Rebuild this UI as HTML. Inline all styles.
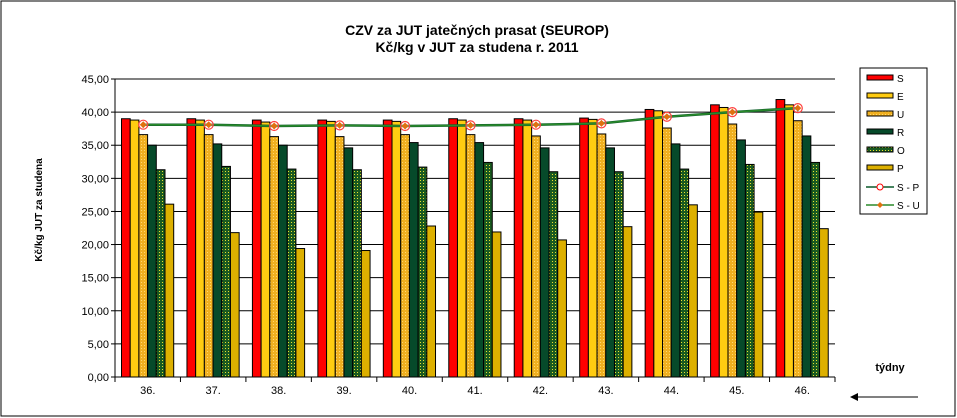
<!DOCTYPE html>
<html><head><meta charset="utf-8"><style>
body{margin:0;background:#fff;font-family:"Liberation Sans",sans-serif}
svg{display:block}
</style></head><body>
<svg width="957" height="418" xmlns="http://www.w3.org/2000/svg">
<defs>
<pattern id="pU" width="3" height="3" patternUnits="userSpaceOnUse"><rect width="3" height="3" fill="#f0b020"/><rect width="1" height="1" fill="#ffd870"/></pattern>
<pattern id="pO" width="3" height="3" patternUnits="userSpaceOnUse"><rect width="3" height="3" fill="#1a5a20"/><rect width="1" height="1" fill="#e8e030"/></pattern>
</defs>
<rect x="1" y="1" width="954" height="415" fill="#fff" stroke="#000"/>
<text x="477" y="35" text-anchor="middle" font-size="14" font-weight="bold">CZV za JUT jatečných prasat (SEUROP)</text>
<text x="477" y="52" text-anchor="middle" font-size="14" font-weight="bold">Kč/kg v JUT za studena r. 2011</text>
<text transform="translate(42,210) rotate(-90)" text-anchor="middle" font-size="10" font-weight="bold">Kč/kg JUT za studena</text>
<text x="890" y="371" text-anchor="middle" font-size="11" font-weight="bold">týdny</text>
<g><line x1="852" y1="397" x2="918" y2="397" stroke="#000"/><path d="M850 397 L858 393 L858 401 Z" fill="#000"/></g>
<g id="grid"></g><g id="bars"></g><g id="lines"></g><g id="axes"></g>
<g>
<rect x="860" y="68" width="67" height="146" fill="#fff" stroke="#000"/>
<g id="leg"></g>
</g>
</svg>
<script>
const weeks=["36.","37.","38.","39.","40.","41.","42.","43.","44.","45.","46."];
const sS=[39.0,39.0,38.8,38.8,38.8,39.0,39.0,39.1,40.4,41.1,41.9];
const sE=[38.8,38.8,38.5,38.6,38.6,38.8,38.8,38.9,40.2,40.7,41.1];
const sU=[36.6,36.6,36.3,36.3,36.6,36.6,36.4,36.7,37.6,38.2,38.7];
const sR=[35.0,35.2,35.0,34.6,35.4,35.4,34.6,34.6,35.2,35.8,36.4];
const sO=[31.3,31.8,31.4,31.3,31.7,32.4,31.0,31.0,31.4,32.1,32.4];
const sP=[26.1,21.8,19.4,19.1,22.8,21.9,20.7,22.7,26.0,24.9,22.4];
const lineSP=[38.1,38.1,37.9,38.0,37.9,38.0,38.1,38.3,39.3,40.0,40.6];
const lineSU=[38.1,38.1,37.9,38.0,37.9,38.0,38.1,38.3,39.3,40.0,40.6];
const yTicks=["0,00","5,00","10,00","15,00","20,00","25,00","30,00","35,00","40,00","45,00"];
const NS="http://www.w3.org/2000/svg";
const X0=115,X1=835,Y0=377,Y1=79,YMAX=45;
const gw=(X1-X0)/weeks.length;
const y=v=>Y0-(v/YMAX)*(Y0-Y1);
function mk(t,a,p){const e=document.createElementNS(NS,t);for(const k in a)e.setAttribute(k,a[k]);document.getElementById(p).appendChild(e);return e;}
yTicks.forEach((t,i)=>{const v=i*5;
 const l=mk('line',{x1:X0,x2:X1,y1:y(v),y2:y(v),stroke:'#000'},'grid');
 
 
 const k=mk('line',{x1:X0-4,x2:X0,y1:y(v),y2:y(v),stroke:'#000'},'axes');
 
 
 const tx=mk('text',{x:X0-6,y:y(v)+4,'text-anchor':'end','font-size':11},'axes');tx.textContent=t;
 
 
});
const ax=mk('line',{x1:X0,x2:X0,y1:Y1,y2:Y0,stroke:'#000'},'axes');


weeks.forEach((w,i)=>{
 const k=mk('line',{x1:X0+i*gw,x2:X0+i*gw,y1:Y0,y2:Y0+5,stroke:'#000'},'axes');
 
 
 const t=mk('text',{x:X0+(i+0.5)*gw,y:Y0+17,'text-anchor':'middle','font-size':11},'axes');t.textContent=w;
 
 
});
const k2=mk('line',{x1:X1,x2:X1,y1:Y0,y2:Y0+5,stroke:'#000'},'axes');


const series=[["S",sS,"#ff0000"],["E",sE,"#ffcc11"],["U",sU,"url(#pU)"],["R",sR,"#064a2a"],["O",sO,"url(#pO)"],["P",sP,"#ddb000"]];
const bw=8.7;
series.forEach(([n,d,c],si)=>{d.forEach((v,i)=>{
 const bx=X0+i*gw+6.5+si*bw;
 const r=mk('rect',{x:bx,y:y(v),width:bw,height:Y0-y(v),fill:c,stroke:'#000','stroke-width':1},'bars');
 
 
});});
const px=i=>X0+i*gw+6.5+2.5*bw;
const p1=mk('polyline',{points:lineSP.map((v,i)=>px(i)+','+y(v)).join(' '),fill:'none',stroke:'#0a5a2a','stroke-width':2.5},'lines');


const p2=mk('polyline',{points:lineSU.map((v,i)=>px(i)+','+y(v)).join(' '),fill:'none',stroke:'#2a8a2a','stroke-width':1.5},'lines');


lineSP.forEach((v,i)=>{const c=mk('circle',{cx:px(i),cy:y(v),r:4.5,fill:'#fff','fill-opacity':0.3,stroke:'#ff4040','stroke-width':1.2},'lines');
 
 });
lineSU.forEach((v,i)=>{const c=mk('path',{d:`M${px(i)} ${y(v)-3.5}L${px(i)+3.5} ${y(v)}L${px(i)} ${y(v)+3.5}L${px(i)-3.5} ${y(v)}Z`,fill:'#e07010'},'lines');
 
 });
// legend
series.forEach(([n,d,c],i)=>{const ly=78+i*18;
 const r=mk('rect',{x:867,y:ly-3,width:26,height:5,fill:c,stroke:'#000'},'leg');
 
 
 const t=mk('text',{x:897,y:ly+4,'font-size':10},'leg');t.textContent=n;
 
 
});
[["S - P",187,'#0a5a2a'],["S - U",205,'#2a8a2a']].forEach(([n,ly,c],i)=>{
 const l=mk('line',{x1:866,x2:894,y1:ly,y2:ly,stroke:c,'stroke-width':1.5},'leg');
 
 
 if(i==0){const m=mk('circle',{cx:880,cy:ly,r:3,fill:'#fff',stroke:'#f00'},'leg');}
 else{const m=mk('path',{d:`M880 ${ly-3}L883 ${ly}L880 ${ly+3}L877 ${ly}Z`,fill:'#e07010'},'leg');}
 const t=mk('text',{x:897,y:ly+4,'font-size':10},'leg');t.textContent=n;
 
 
});
</script>
</body></html>
